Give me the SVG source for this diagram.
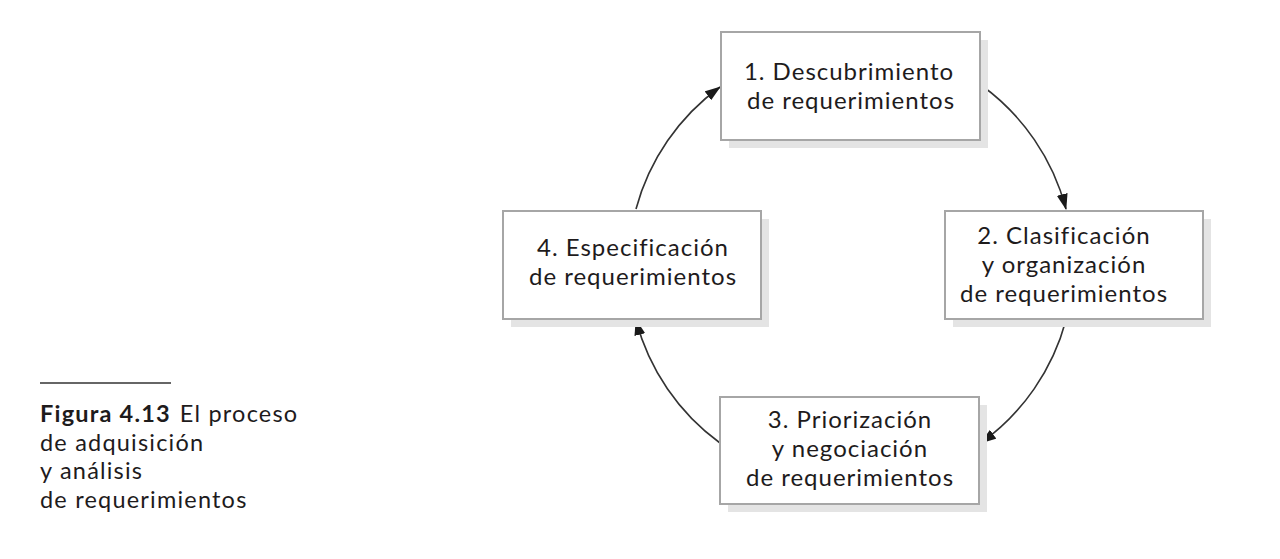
<svg xmlns="http://www.w3.org/2000/svg" width="1280" height="559" viewBox="0 0 1280 559">
<defs>
<style>
.shadow{fill:#e4e4e4;}
.box{fill:#ffffff;stroke:#a6a6a6;stroke-width:2;}
.t{font-family:Lato,"Open Sans",sans-serif;font-size:24px;letter-spacing:1px;fill:#1e1b1c;text-anchor:middle;}
.c{font-family:Lato,"Open Sans",sans-serif;font-size:23.5px;letter-spacing:1.2px;fill:#1e1b1c;}
.conn{fill:none;stroke:#333333;stroke-width:1.6;marker-end:url(#ah);}
</style>
<marker id="ah" viewBox="0 0 16 11" refX="15" refY="5.5" markerWidth="16" markerHeight="11" markerUnits="userSpaceOnUse" orient="auto">
<path d="M0,0 L16,5.5 L0,11 Z" fill="#1a1a1a"/>
</marker>
</defs>
<rect width="1280" height="559" fill="#ffffff"/>
<g id="connectors">
<path class="conn" d="M981,85 A222,222 0 0 1 1066,209"/>
<path class="conn" d="M1066,320 A222,222 0 0 1 981,443"/>
<path class="conn" d="M720,443 A222,222 0 0 1 636,320"/>
<path class="conn" d="M636,209 A222,222 0 0 1 720,87"/>
</g>
<g id="node1">
<rect class="shadow" x="729" y="40" width="259" height="108"/>
<rect class="box" x="721" y="32" width="259" height="108"/>
<text class="t" x="849" y="80">1. Descubrimiento</text>
<text class="t" x="851" y="109">de requerimientos</text>
</g>
<g id="node2">
<rect class="shadow" x="953" y="219" width="258" height="108"/>
<rect class="box" x="945" y="211" width="258" height="108"/>
<text class="t" x="1064" y="244">2. Clasificación</text>
<text class="t" x="1064" y="273">y organización</text>
<text class="t" x="1064" y="302">de requerimientos</text>
</g>
<g id="node3">
<rect class="shadow" x="728" y="405" width="259" height="107"/>
<rect class="box" x="720" y="397" width="259" height="107"/>
<text class="t" x="850" y="428">3. Priorización</text>
<text class="t" x="850" y="457">y negociación</text>
<text class="t" x="850" y="486">de requerimientos</text>
</g>
<g id="node4">
<rect class="shadow" x="511" y="219" width="258" height="108"/>
<rect class="box" x="503" y="211" width="258" height="108"/>
<text class="t" x="633" y="256">4. Especificación</text>
<text class="t" x="633" y="285">de requerimientos</text>
</g>
<g id="caption">
<line x1="40" y1="383" x2="171" y2="383" stroke="#333333" stroke-width="1.5"/>
<text class="c" x="40" y="422"><tspan font-weight="bold">Figura 4.13</tspan><tspan dx="9">El proceso</tspan></text>
<text class="c" x="40" y="450.5">de adquisición</text>
<text class="c" x="40" y="479">y análisis</text>
<text class="c" x="40" y="507.5">de requerimientos</text>
</g>
</svg>
